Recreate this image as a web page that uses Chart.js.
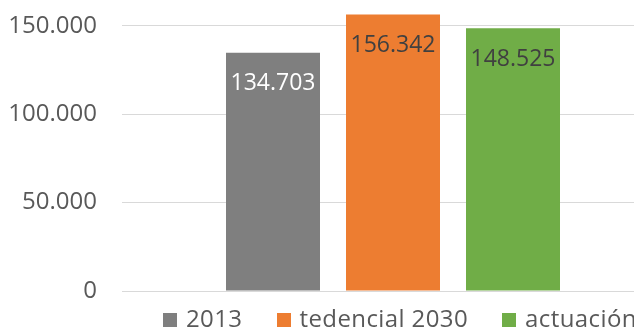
<!DOCTYPE html>
<html>
<head>
<meta charset="utf-8">
<script src="https://cdn.jsdelivr.net/npm/chart.js@4/dist/chart.umd.min.js"></script>
<style>
  html, body { margin: 0; padding: 0; background: #fff; overflow: hidden; }
  #wrap { position: relative; width: 634px; height: 329px; overflow: hidden; }
  #chartBox { position: absolute; left: 0; top: 0; width: 664px; height: 329px; }
  #legend {
    position: absolute; left: 163px; top: 301px;
    display: flex; align-items: flex-start; gap: 34px;
    white-space: nowrap;
    font-family: "Open Sans", sans-serif; font-size: 24px; color: #595959;
    letter-spacing: 0.4px;
  }
  #legend .item { display: flex; align-items: flex-start; }
  #legend .box { width: 14px; height: 14px; margin-top: 12px; margin-right: 9px; flex: none; }
</style>
</head>
<body>
<div id="wrap">
  <div id="chartBox"><canvas id="myChart" width="664" height="329"></canvas></div>
  <div id="legend"></div>
</div>

<script>
  const categories = [''];
  const seriesNames = ['2013', 'tedencial 2030', 'actuación'];
  const seriesValues = [134703, 156342, 148525];
  const seriesColors = ['#7f7f7f', '#ed7d31', '#70ad47'];
  const valueLabelColors = ['#ffffff', '#404040', '#404040'];
  const yTicks = [0, 50000, 100000, 150000];

  function fmt(v) {
    return String(v).replace(/\B(?=(\d{3})+(?!\d))/g, '.');
  }

  // values written inside the top of each bar
  const valueLabels = {
    id: 'valueLabels',
    afterDatasetsDraw(chart) {
      const ctx = chart.ctx;
      ctx.save();
      ctx.font = '23px "Open Sans"';
      ctx.textAlign = 'center';
      ctx.textBaseline = 'alphabetic';
      chart.data.datasets.forEach((ds, i) => {
        chart.getDatasetMeta(i).data.forEach((bar, j) => {
          ctx.fillStyle = valueLabelColors[i];
          ctx.fillText(fmt(ds.data[j]), bar.x, bar.y + 37.5);
        });
      });
      ctx.restore();
    }
  };

  // html legend built from the datasets
  const htmlLegend = {
    id: 'htmlLegend',
    afterUpdate(chart) {
      const el = document.getElementById('legend');
      el.innerHTML = '';
      chart.data.datasets.forEach(ds => {
        const item = document.createElement('div');
        item.className = 'item';
        const box = document.createElement('span');
        box.className = 'box';
        box.style.background = ds.backgroundColor;
        const txt = document.createElement('span');
        txt.textContent = ds.label;
        item.appendChild(box);
        item.appendChild(txt);
        el.appendChild(item);
      });
    }
  };

  const datasets = seriesNames.map((name, i) => ({
    label: name,
    data: [seriesValues[i]],
    backgroundColor: seriesColors[i],
    borderWidth: 0,
    categoryPercentage: 360 / 542,
    barPercentage: 94 / 120
  }));

  const ctx = document.getElementById('myChart');
  const myChart = new Chart(ctx, {
    type: 'bar',
    data: { labels: categories, datasets: datasets },
    options: {
      responsive: false,
      animation: false,
      devicePixelRatio: 1,
      layout: { padding: { top: 8, left: 10, right: 0, bottom: 38 } },
      plugins: {
        legend: { display: false },
        tooltip: { enabled: false }
      },
      scales: {
        x: { display: false },
        y: {
          min: 0,
          max: 160000,
          border: { display: false },
          grid: { color: '#d9d9d9', lineWidth: 1, drawTicks: true, tickLength: 22, tickColor: 'rgba(0,0,0,0)' },
          ticks: {
            padding: 3,
            color: '#595959',
            font: { family: 'Open Sans', size: 24 },
            callback: v => fmt(v)
          },
          afterBuildTicks: scale => { scale.ticks = yTicks.map(v => ({ value: v })); },
          afterFit: scale => {
            scale.width = 112;
            scale.paddingTop = 0;
            scale.paddingBottom = 0;
          }
        }
      }
    },
    plugins: [valueLabels, htmlLegend]
  });
</script>
</body>
</html>
